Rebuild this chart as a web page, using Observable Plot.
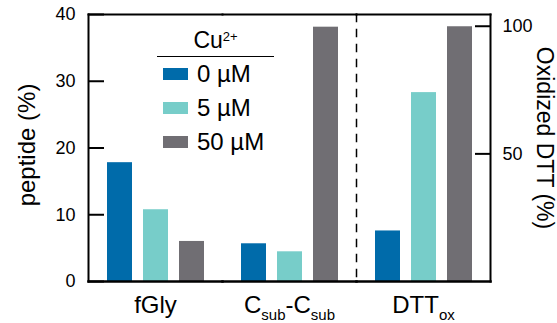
<!DOCTYPE html>
<html><head><meta charset="utf-8">
<script src="https://cdn.jsdelivr.net/npm/d3@7"></script>
<script src="https://cdn.jsdelivr.net/npm/@observablehq/plot@0.6"></script>
<style>
body{margin:0;background:#fff;font-family:"Liberation Sans",Arial,sans-serif;color:#000;}
#wrap{position:relative;width:557px;height:323px;}
#legend{position:absolute;left:157px;top:24px;width:117px;}
#legend .title{font-size:23px;line-height:32px;text-align:center;border-bottom:1.5px solid #000;height:32px;}
#legend .title sup{font-size:13px;vertical-align:top;position:relative;top:-3px;}
#legend .row{display:flex;align-items:center;height:34px;font-size:24px;}
#legend .sw{width:25px;height:12px;margin-left:6px;margin-right:9px;}
</style></head><body><div id="wrap"></div>
<script>
const groups = ["fGly", "C_sub-C_sub", "DTT_ox"];
const conditions = ["0 µM", "5 µM", "50 µM"];
const colors = ["#006BAA", "#77CDC9", "#706E73"];
const peptideFGly = [17.8, 10.75, 6.0];
const peptideCsub = [5.65, 4.45, 38.1];
const oxidizedDTT = [19.8, 74, 99.8];
const leftTicks = [0, 10, 20, 30, 40];
const rightTicks = [50, 100];
const leftMax = 40, rightMax = 104.6;
const toLeft = v => v * leftMax / rightMax;

const data = [
  ...conditions.map((c, i) => ({group: groups[0], cond: c, value: peptideFGly[i]})),
  ...conditions.map((c, i) => ({group: groups[1], cond: c, value: peptideCsub[i]})),
  ...conditions.map((c, i) => ({group: groups[2], cond: c, value: toLeft(oxidizedDTT[i])}))
];

const font = '"Liberation Sans", Arial, sans-serif';
const plot = Plot.plot({
  width: 557, height: 323,
  marginLeft: 88, marginRight: 67, marginTop: 14, marginBottom: 42,
  style: {fontFamily: font, fontSize: "18px", color: "#000", background: "#fff"},
  fx: {domain: groups, padding: 0, label: null},
  x: {domain: conditions, paddingInner: 0.315, paddingOuter: 0.493, axis: null},
  y: {domain: [0, leftMax]},
  color: {domain: conditions, range: colors},
  marks: [
    Plot.barY(data, {fx: "group", x: "cond", y: "value", fill: "cond"}),
    Plot.axisY(leftTicks, {anchor: "left", tickSize: -16, tickPadding: 29, strokeWidth: 2, fontSize: 18, label: null}),
    Plot.axisY(rightTicks.map(toLeft), {anchor: "right", tickFormat: d => Math.round(d * rightMax / leftMax), tickSize: -16, tickPadding: 28, strokeWidth: 2, fontSize: 18, label: null}),
    Plot.axisFx({anchor: "bottom", tickSize: 0, tickPadding: 14, fontSize: 24, label: null}),
    Plot.frame({anchor: "top", strokeWidth: 2}),
    Plot.frame({anchor: "bottom", strokeWidth: 2.5}),
    Plot.frame({anchor: "left", fx: () => groups[0], strokeWidth: 2}),
    Plot.frame({anchor: "right", fx: () => groups[2], strokeWidth: 2}),
    Plot.frame({anchor: "left", fx: () => groups[2], strokeWidth: 1.5, strokeDasharray: "7,8"}),
    Plot.text(["peptide (%)"], {fx: () => groups[0], frameAnchor: "left", textAnchor: "middle", rotate: -90, dx: -61, dy: -3, fontSize: 24, text: d => d, lineAnchor: "middle"}),
    Plot.text(["Oxidized DTT (%)"], {fx: () => groups[2], frameAnchor: "right", textAnchor: "middle", rotate: 90, dx: 54, dy: -10, fontSize: 23, text: d => d, lineAnchor: "middle"})
  ]
});

// subscripts in group labels
plot.querySelectorAll('[aria-label="fx-axis tick label"] text').forEach(t => {
  const s = t.textContent;
  if (!s.includes("_")) return;
  t.textContent = "";
  const parts = s.split(/_([a-z]+)/);
  const ns = "http://www.w3.org/2000/svg";
  let down = false;
  parts.forEach((p, i) => {
    if (!p) return;
    const ts = document.createElementNS(ns, "tspan");
    ts.textContent = p;
    if (i % 2 === 1) {
      ts.setAttribute("font-size", "15");
      ts.setAttribute("dy", "7");
      down = true;
    } else if (down) {
      ts.setAttribute("dy", "-7");
      down = false;
    }
    t.appendChild(ts);
  });
});

const wrap = document.getElementById("wrap");
wrap.appendChild(plot);
const legend = document.createElement("div");
legend.id = "legend";
legend.innerHTML = '<div class="title">Cu<sup>2+</sup></div>' +
  conditions.map((c, i) => `<div class="row"><span class="sw" style="background:${colors[i]}"></span><span>${c}</span></div>`).join("");
wrap.appendChild(legend);
</script></body></html>
